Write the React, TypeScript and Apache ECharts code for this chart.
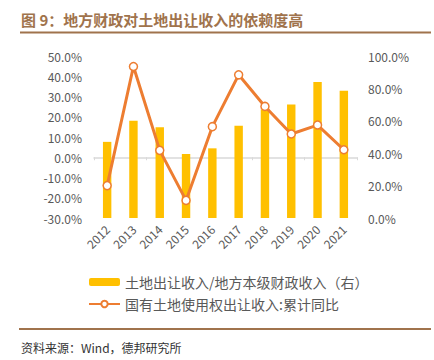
import React, { useEffect, useRef } from "react";
import * as echarts from "echarts";

const categories = ["2012", "2013", "2014", "2015", "2016", "2017", "2018", "2019", "2020", "2021"];
const ratioValues = [47, 60, 56, 39.5, 43, 57, 67, 70, 84, 78.5];
const yoyValues = [-14, 44.8, 3.4, -21.3, 15.1, 40.7, 25.1, 11.5, 15.9, 3.7];
const leftTicks = { min: -30, max: 50, interval: 10 };
const rightTicks = { min: 0, max: 100, interval: 20 };
const barName = "土地出让收入/地方本级财政收入（右）";
const lineName = "国有土地使用权出让收入:累计同比";
const titleText = "图 9：地方财政对土地出让收入的依赖度高";
const sourceText = "资料来源：Wind，德邦研究所";

const CJK = '"Noto Sans CJK SC", "Noto Sans", sans-serif';
const BROWN = "#A0734C";

export default function App() {
  const ref = useRef<HTMLDivElement>(null);
  useEffect(() => {
    if (!ref.current) return;
    const chart = echarts.init(ref.current, null, { renderer: "svg" });
    const fmt = (v: number) => v.toFixed(1) + "%";
    chart.setOption({
      animation: false,
      textStyle: { fontFamily: CJK },
      grid: { left: 94, right: 77, top: 56, bottom: 142 },
      legend: {
        orient: "vertical",
        left: 83,
        top: 270,
        itemWidth: 31,
        itemHeight: 8,
        itemGap: 8,
        textStyle: { color: "#595959", fontSize: 14, fontFamily: CJK },
        data: [{ name: barName }, { name: lineName }],
      },
      xAxis: [
        {
          type: "category",
          data: categories,
          position: "bottom",
          axisLine: { show: false },
          axisTick: { show: false },
          axisLabel: { rotate: 45, color: "#595959", fontSize: 12, margin: 9, fontFamily: CJK },
        },
        {
          type: "category",
          data: categories,
          position: "bottom",
          axisLine: { show: true, onZero: true, onZeroAxisIndex: 0, lineStyle: { color: "#D9D9D9", width: 1.5 } },
          axisTick: { show: true, length: 3, lineStyle: { color: "#D9D9D9" } },
          axisLabel: { show: false },
        },
      ],
      yAxis: [
        {
          type: "value",
          min: leftTicks.min,
          max: leftTicks.max,
          interval: leftTicks.interval,
          splitLine: { show: false },
          axisLine: { show: false },
          axisTick: { show: false },
          axisLabel: { formatter: fmt, color: "#595959", fontSize: 12, margin: 12, fontFamily: CJK },
        },
        {
          type: "value",
          min: rightTicks.min,
          max: rightTicks.max,
          interval: rightTicks.interval,
          splitLine: { show: false },
          axisLine: { show: false },
          axisTick: { show: false },
          axisLabel: { formatter: fmt, color: "#595959", fontSize: 12, margin: 11, fontFamily: CJK },
        },
      ],
      series: [
        {
          name: barName,
          type: "bar",
          xAxisIndex: 0,
          yAxisIndex: 1,
          data: ratioValues,
          barWidth: "32%",
          itemStyle: { color: "#FFC000" },
          z: 2,
        },
        {
          name: lineName,
          type: "line",
          xAxisIndex: 0,
          yAxisIndex: 0,
          data: yoyValues,
          symbol: "circle",
          symbolSize: 8,
          lineStyle: { color: "#ED7D31", width: 3 },
          itemStyle: { color: "#FFFFFF", borderColor: "#ED7D31", borderWidth: 1.5 },
          z: 5,
        },
      ],
      graphic: [
        {
          type: "text",
          left: 21,
          top: 12,
          style: { text: titleText, fill: BROWN, font: `bold 15px ${CJK}` },
        },
        {
          type: "line",
          shape: { x1: 20, y1: 32.5, x2: 431, y2: 32.5 },
          style: { stroke: BROWN, lineWidth: 2 },
        },
        {
          type: "line",
          shape: { x1: 19, y1: 329, x2: 431, y2: 329 },
          style: { stroke: BROWN, lineWidth: 2 },
        },
        {
          type: "text",
          left: 21,
          top: 341,
          style: { text: sourceText, fill: "#333333", font: `12px ${CJK}` },
        },
      ],
    });
    return () => chart.dispose();
  }, []);
  return <div ref={ref} style={{ width: 434, height: 360, position: "absolute", left: 0, top: 0 }} />;
}
